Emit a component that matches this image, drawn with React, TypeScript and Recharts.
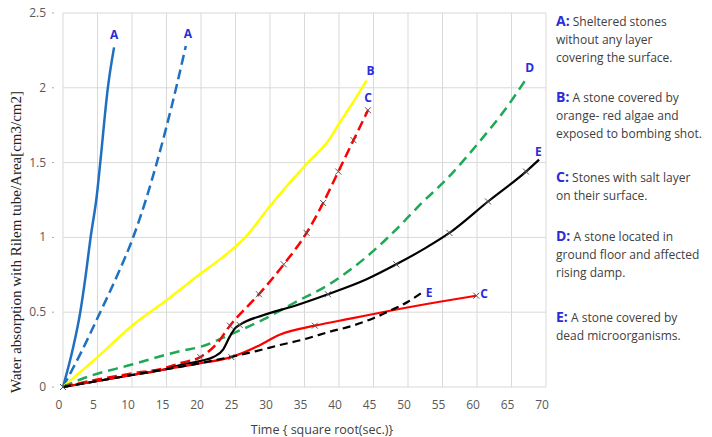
import React from "react";
import { ComposedChart, Line, XAxis, YAxis, CartesianGrid } from "recharts";

type P = { t: number; v: number };
const pts = (arr: number[][]): P[] => arr.map(([t, v]) => ({ t, v }));

const xTicks = [0, 5, 10, 15, 20, 25, 30, 35, 40, 45, 50, 55, 60, 65, 70];
const yTicks = [0, 0.5, 1, 1.5, 2, 2.5];

// A: sheltered stones (solid and dashed)
const aSolid = pts([[0, 0], [1.4, 0.25], [2.5, 0.5], [3.3, 0.75], [4, 1.0], [4.9, 1.28], [5.4, 1.5], [6.5, 2.0], [7.4, 2.27]]);
const aDashed = pts([[0, 0], [2.5, 0.22], [5.4, 0.5], [8, 0.76], [10, 0.98], [12, 1.25], [13.6, 1.5], [16.4, 2.0], [17.8, 2.28]]);
// B: orange-red algae
const bLine = pts([[0, 0], [2, 0.08], [5, 0.2], [10, 0.41], [15, 0.58], [20, 0.76], [23.2, 0.87], [26.4, 1.0], [30, 1.21], [33.9, 1.42], [35.5, 1.5], [37, 1.57], [38.5, 1.65], [40, 1.76], [42, 1.9], [44, 2.05]]);
// C: salt layer (dashed, with markers)
const cDashed = pts([[0, 0], [5, 0.05], [10, 0.09], [15, 0.13], [17, 0.16], [19.9, 0.2], [22.3, 0.29], [24.2, 0.41], [28.4, 0.62], [32, 0.82], [35.3, 1.03], [37.7, 1.23], [39.9, 1.44], [42.1, 1.65], [44.2, 1.85]]);
const cDashedMarks = pts([[0, 0], [19.9, 0.2], [24.2, 0.41], [28.4, 0.62], [32, 0.82], [35.3, 1.03], [37.7, 1.23], [39.9, 1.44], [42.1, 1.65], [44.2, 1.85]]);
// D: rising damp
const dLine = pts([[0, 0], [2.5, 0.05], [10, 0.15], [17, 0.24], [20, 0.27], [24.2, 0.35], [29, 0.45], [33.4, 0.56], [38.7, 0.69], [44, 0.87], [48, 1.04], [52, 1.23], [55.6, 1.39], [60.9, 1.67], [64, 1.85], [67, 2.05]]);
// E: dead microorganisms (solid, with markers)
const eSolid = pts([[0, 0], [5, 0.04], [10, 0.08], [15, 0.12], [17, 0.147], [20, 0.175], [21.8, 0.2], [23.2, 0.25], [24.2, 0.34], [24.9, 0.39], [25.6, 0.415], [29, 0.48], [33.4, 0.54], [38.4, 0.62], [44, 0.72], [48.3, 0.82], [52.2, 0.92], [56, 1.03], [61.6, 1.24], [67.1, 1.44], [69, 1.52]]);
const eSolidMarks = pts([[25.6, 0.415], [38.4, 0.62], [48.3, 0.82], [56, 1.03], [61.6, 1.24], [67.1, 1.44]]);
// C: salt layer (solid, with markers)
const cSolid = pts([[0, 0], [5, 0.04], [10, 0.08], [15, 0.12], [20, 0.16], [24.4, 0.2], [28.1, 0.27], [31.4, 0.35], [36.5, 0.41], [42, 0.46], [47.4, 0.51], [54.6, 0.57], [59.9, 0.61]]);
const cSolidMarks = pts([[24.4, 0.2], [36.5, 0.41], [59.9, 0.61]]);
// E: dashed
const eDashed = pts([[0, 0], [5, 0.04], [10, 0.08], [15, 0.12], [20, 0.16], [24.2, 0.2], [28, 0.24], [31.4, 0.28], [35, 0.32], [38.7, 0.37], [42, 0.41], [45, 0.46], [47.4, 0.51], [50, 0.57], [52, 0.63]]);

const legendItems = [
  { key: "A:", lines: ["Sheltered stones", "without any layer", "covering the surface."] },
  { key: "B:", lines: ["A stone covered by", "orange- red algae and", "exposed to bombing shot."] },
  { key: "C:", lines: ["Stones with salt layer", "on their surface."] },
  { key: "D:", lines: ["A stone located in", "ground floor and affected", "rising damp."] },
  { key: "E:", lines: ["A stone covered by", "dead microorganisms."] },
];
const legendTops = [26, 102, 182, 241, 322];

const LABEL_BLUE = "#2b2bd9";
const SANS = "'Open Sans', 'Noto Sans', sans-serif";

const endLabel = (text: string, last: number, dx: number, dy: number, anchor: string) => (p: any) => {
  if (p.index !== last) return <g key={`n${p.index}`} />;
  return (
    <text key={`l${p.index}`} x={p.cx + dx} y={p.cy + dy} textAnchor={anchor as any} fill={LABEL_BLUE} fontFamily={SANS} fontWeight={700} fontSize={12}>
      {text}
    </text>
  );
};

const xMark = (p: any) => (
  <path key={`m${p.index}`} d={`M${p.cx - 3},${p.cy - 3}L${p.cx + 3},${p.cy + 3}M${p.cx - 3},${p.cy + 3}L${p.cx + 3},${p.cy - 3}`} stroke="#555" strokeWidth={1} fill="none" />
);

const xTick = (p: any) => (
  <text x={p.x - 4} y={p.y + 22} textAnchor="middle" fill="#595959" fontFamily={SANS} fontSize={12}>
    {p.payload.value}
  </text>
);
const yTick = (p: any) => (
  <g>
    <text x={p.x - 17} y={p.y + 4} textAnchor="end" fill="#595959" fontFamily={SANS} fontSize={12}>
      {String(p.payload.value)}
    </text>
    <line x1={p.x - 11} x2={p.x - 9} y1={p.y} y2={p.y} stroke="#a6a6a6" strokeWidth={1} />
  </g>
);

export default function App() {
  return (
    <div style={{ position: "absolute", left: 0, top: 0, width: 712, height: 437, background: "#fff" }}>
      <ComposedChart width={712} height={437} margin={{ top: 13, right: 166, bottom: 20, left: 0 }}>
        <CartesianGrid stroke="#d9d9d9" strokeWidth={1} />
        <XAxis type="number" dataKey="t" domain={[0, 70]} ticks={xTicks} axisLine={false} tickLine={false} tickSize={0} tickMargin={0} height={30} tick={xTick} allowDuplicatedCategory={false} />
        <YAxis type="number" domain={[0, 2.5]} ticks={yTicks} axisLine={false} tickLine={false} tickSize={0} tickMargin={0} width={63} tick={yTick} />
        <Line data={aSolid} dataKey="v" type="monotone" stroke="#1f70c1" strokeWidth={2.5} dot={endLabel("A", aSolid.length - 1, 0, -8, "middle")} isAnimationActive={false} />
        <Line data={aDashed} dataKey="v" type="monotone" stroke="#1f70c1" strokeWidth={2.5} strokeDasharray="10 5" dot={endLabel("A", aDashed.length - 1, 2, -8, "middle")} isAnimationActive={false} />
        <Line data={bLine} dataKey="v" type="monotone" stroke="#ffff00" strokeWidth={2.5} dot={endLabel("B", bLine.length - 1, 0, -5, "start")} isAnimationActive={false} />
        <Line data={dLine} dataKey="v" type="monotone" stroke="#1fa855" strokeWidth={2.5} strokeDasharray="10 6" dot={endLabel("D", dLine.length - 1, 0, -8, "start")} isAnimationActive={false} />
        <Line data={cDashed} dataKey="v" type="monotone" stroke="#ff0000" strokeWidth={2.5} strokeDasharray="10 5" dot={endLabel("C", cDashed.length - 1, 0, -8, "middle")} isAnimationActive={false} />
        <Line data={eSolid} dataKey="v" type="monotone" stroke="#000000" strokeWidth={2.2} dot={endLabel("E", eSolid.length - 1, -4, -4, "start")} isAnimationActive={false} />
        <Line data={cSolid} dataKey="v" type="monotone" stroke="#ff0000" strokeWidth={2.2} dot={endLabel("C", cSolid.length - 1, 4, 2, "start")} isAnimationActive={false} />
        <Line data={eDashed} dataKey="v" type="monotone" stroke="#000000" strokeWidth={2.2} strokeDasharray="8 5" dot={endLabel("E", eDashed.length - 1, 4, 4, "start")} isAnimationActive={false} />
        <Line data={cDashedMarks} dataKey="v" stroke="none" dot={xMark} activeDot={false} isAnimationActive={false} />
        <Line data={eSolidMarks} dataKey="v" stroke="none" dot={xMark} activeDot={false} isAnimationActive={false} />
        <Line data={cSolidMarks} dataKey="v" stroke="none" dot={xMark} activeDot={false} isAnimationActive={false} />
      </ComposedChart>
      <svg width={712} height={437} style={{ position: "absolute", left: 0, top: 0, pointerEvents: "none" }}>
        <text transform="translate(21,242) rotate(-90)" textAnchor="middle" fontFamily="'Liberation Serif', 'Times New Roman', serif" fontSize={15} fill="#222">
          Water absorption with Rilem tube/Area[cm3/cm2]
        </text>
        <text x={322} y={434} textAnchor="middle" fontFamily={SANS} fontSize={12.5} fill="#404040">
          Time {"{"} square root(sec.){"}"}
        </text>
        {legendItems.map((it, i) => (
          <g key={it.key}>
            {it.lines.map((ln, j) => (
              <text key={j} x={556} y={legendTops[i] + j * 18} fontFamily={SANS} fontSize={12} fill="#404040">
                {j === 0 ? (
                  <>
                    <tspan fill={LABEL_BLUE} fontWeight={700} fontSize={14}>{it.key}</tspan>
                    <tspan> {ln}</tspan>
                  </>
                ) : (
                  ln
                )}
              </text>
            ))}
          </g>
        ))}
      </svg>
    </div>
  );
}
